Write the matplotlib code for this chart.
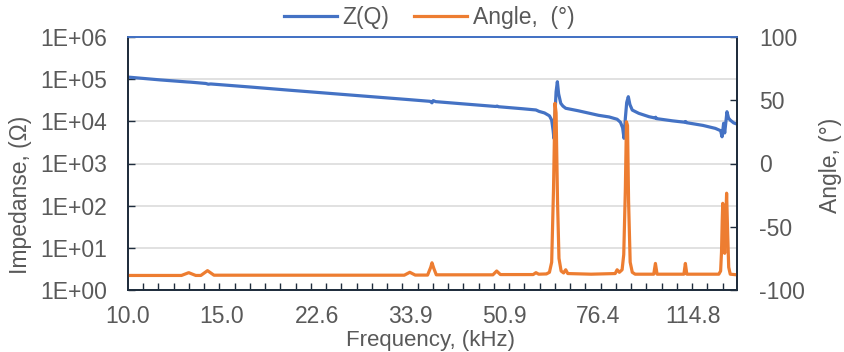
import numpy as np
import matplotlib
matplotlib.use("Agg")
import matplotlib.pyplot as plt

plt.rcParams['font.family'] = ['Liberation Sans', 'DejaVu Sans']
plt.rcParams['axes.unicode_minus'] = False

# Impedance |Z| (ohm) vs frequency (kHz)
z_freq = [10.0, 11.5, 12.9, 13.1, 14.0, 14.15, 14.3, 17.0, 20.0, 25.0, 30.0, 33.8,
          36.9, 37.2, 37.4, 37.8, 42.0, 49.0, 49.3, 49.6, 55.0, 58.3, 59.1, 60.5,
          61.8, 62.4, 62.8, 63.0, 63.3, 63.6, 63.95, 64.3, 64.9, 65.5, 66.3, 70.0,
          76.4, 80.0, 82.8, 84.0, 84.8, 85.3, 85.8, 86.3, 86.9, 87.5, 88.4, 90.9,
          95.0, 97.5, 97.8, 98.2, 105.0, 111.0, 111.3, 111.7, 120.0, 126.6, 129.5,
          130.3, 131.2, 131.8, 133.1, 134.0, 135.0, 137.0, 139.0]
z_vals = [1.12e5, 9.6e4, 8.6e4, 8.5e4, 7.9e4, 7.6e4, 7.7e4, 6.5e4, 5.5e4, 4.4e4, 3.67e4, 3.26e4,
          2.98e4, 2.75e4, 3.1e4, 2.93e4, 2.63e4, 2.25e4, 2.3e4, 2.22e4, 1.99e4, 1.86e4, 1.72e4, 1.58e4,
          1.35e4, 1.07e4, 6.0e3, 3.96e3, 1.5e4, 5.0e4, 8.7e4, 4.5e4, 2.67e4, 2.3e4, 2.04e4, 1.78e4,
          1.39e4, 1.27e4, 1.12e4, 9.5e3, 7.0e3, 3.96e3, 1.2e4, 2.8e4, 3.84e4, 2.5e4, 1.85e4, 1.55e4,
          1.29e4, 1.2e4, 1.25e4, 1.16e4, 1.03e4, 9.5e3, 9.9e3, 9.3e3, 8.0e3, 6.8e3, 6.0e3,
          4.3e3, 9.0e3, 5.3e3, 1.69e4, 1.2e4, 1.07e4, 9.2e3, 8.6e3]

# Phase angle (deg) vs frequency (kHz)
ang_freq = [10.0, 12.6, 13.0, 13.4, 13.7, 14.1, 14.5, 33.0, 33.8, 34.6, 36.5, 37.0,
            37.2, 37.5, 37.9, 48.4, 49.2, 50.0, 57.6, 58.3, 59.0, 61.0, 61.8, 62.4,
            62.9, 63.3, 63.6, 64.0, 64.4, 65.0, 65.7, 66.3, 66.9, 74.0, 82.1, 82.8,
            83.6, 84.6, 85.2, 85.8, 86.2, 86.6, 87.0, 87.6, 88.4, 89.5, 97.0, 97.7,
            98.4, 110.5, 111.2, 111.9, 128.5, 129.5, 130.0, 130.4, 130.7, 131.2, 131.8,
            132.4, 132.9, 133.5, 134.1, 135.0, 139.0]
ang_vals = [-88.5, -88.5, -86.3, -88.5, -88.5, -84.7, -88.3, -88.3, -86.0, -88.2, -88.2, -82.0,
            -78.5, -83.0, -88.0, -88.0, -85.0, -87.8, -87.8, -86.3, -87.5, -87.3, -86.0, -78.0,
            -20.0, 47.6, 40.0, -30.0, -75.0, -85.0, -86.5, -84.0, -87.0, -87.5, -87.0, -84.0,
            -86.0, -84.0, -72.0, -20.0, 33.0, 30.0, -30.0, -78.0, -86.0, -87.5, -87.5, -79.0,
            -87.5, -87.5, -79.0, -87.5, -87.5, -85.0, -70.0, -45.0, -31.5, -55.0, -71.0,
            -45.0, -23.5, -55.0, -82.0, -87.5, -88.0]

x_tick_vals = [10.0, 15.0, 22.6, 33.9, 50.9, 76.4, 114.8]
x_tick_labels = ['10.0', '15.0', '22.6', '33.9', '50.9', '76.4', '114.8']

blue = '#4472C4'
orange = '#ED7D31'
txt = '#595959'
spine = '#1F2D3D'
fs = 16.5

fig = plt.figure(figsize=(8.45, 3.52), dpi=100)
ax = fig.add_axes([128/845, 62/352, 609/845, 253/352])
ax2 = ax.twinx()

l1, = ax.plot(z_freq, z_vals, color=blue, lw=2.3, label='Z(Q)', solid_joinstyle='round')
l2, = ax2.plot(ang_freq, ang_vals, color=orange, lw=2.3, label='Angle,  (°)', solid_joinstyle='round')

ax.set_xscale('log')
ax.set_yscale('log')
ax.set_xlim(10, 139)
ax.set_ylim(1, 1e6)
ax2.set_ylim(-100, 100)

ax.set_yticks([10.0**k for k in range(7)])
ax.set_yticklabels(['1E+%02d' % k for k in range(7)])
ax.yaxis.set_minor_locator(matplotlib.ticker.NullLocator())
ax.grid(True, axis='y', color='#D9D9D9', lw=1.1)
ax.set_axisbelow(True)

ax.set_xticks(x_tick_vals)
ax.set_xticklabels(x_tick_labels)
ax.set_xticks([10 * 1.0681 ** k for k in range(40)], minor=True)
ax.xaxis.set_minor_formatter(matplotlib.ticker.NullFormatter())

ax2.set_yticks([-100, -50, 0, 50, 100])

ax.tick_params(axis='x', which='major', length=0, pad=11, labelsize=fs, labelcolor=txt)
ax.tick_params(axis='x', which='minor', direction='in', length=5, width=1, color=spine)
ax.tick_params(axis='y', direction='in', length=5, width=1, color=spine, pad=15,
               labelsize=fs, labelcolor=txt)
ax2.tick_params(axis='y', direction='in', length=5, width=1, color=spine, pad=16,
                labelsize=fs, labelcolor=txt)

for a in (ax, ax2):
    for s in ('left', 'right', 'bottom'):
        a.spines[s].set_color(spine)
        a.spines[s].set_linewidth(1.3)
    a.spines['top'].set_color(blue)
    a.spines['top'].set_linewidth(1.3)

ax.set_xlabel('Frequency, (kHz)', fontsize=16, color=txt)
ax.xaxis.set_label_coords(0.496, -0.201)
ax.xaxis.label.set_va('center')
ax.set_ylabel('Impedanse, (Ω)', fontsize=fs, color=txt)
ax.yaxis.set_label_coords(-0.177, 0.375)
ax.yaxis.label.set_va('center')
ax2.set_ylabel('Angle, (°)', fontsize=fs, color=txt, rotation=90)
ax2.yaxis.set_label_coords(1.153, 0.494)
ax2.yaxis.label.set_va('center')

fig.legend(handles=[l1, l2], loc='center', bbox_to_anchor=(0.508, 0.949), ncol=2,
           frameon=False, fontsize=fs, labelcolor=txt, handlelength=2.3,
           handletextpad=0.25, columnspacing=1.1, borderaxespad=0)

fig.savefig('out.png', dpi=100)
